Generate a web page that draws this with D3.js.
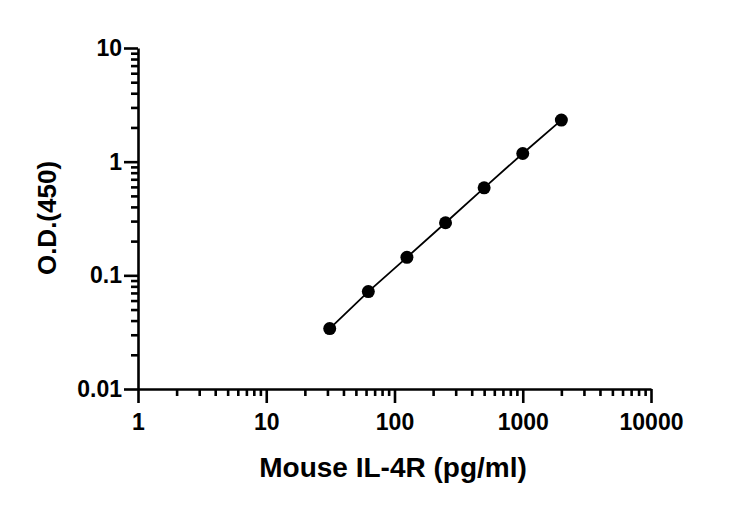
<!DOCTYPE html>
<html>

<head>
    <meta charset="utf-8">
    <style>
        body {
            margin: 0;
            background: #fff;
        }

        svg {
            font-family: "Liberation Sans", Arial, Helvetica, sans-serif;
        }

        .axis .domain,
        .axis .tick line {
            stroke: #000;
            stroke-width: 2.6px;
        }

        .axis .tick text {
            font-size: 23px;
            font-weight: bold;
            fill: #000;
        }

        .axis-title {
            font-size: 28px;
            font-weight: bold;
            fill: #000;
        }

        .axis-title.ytitle {
            font-size: 26px;
        }
    </style>
</head>

<body>
    <svg width="732" height="507"></svg>
</body>

<script src="https://d3js.org/d3.v7.min.js"></script>

<script>
    // standard curve points
    const concentrations = [31.25, 62.5, 125, 250, 500, 1000, 2000];
    const odValues = [0.034, 0.072, 0.144, 0.290, 0.589, 1.18, 2.32];

    const xTickValues = [1, 10, 100, 1000, 10000];
    const xTickLabels = ["1", "10", "100", "1000", "10000"];
    const yTickValues = [0.01, 0.1, 1, 10];
    const yTickLabels = ["0.01", "0.1", "1", "10"];

    const xTitle = "Mouse IL-4R (pg/ml)";
    const yTitle = "O.D.(450)";

    let margin = { top: 48, right: 81, bottom: 118, left: 138 };
    let width = 732;
    let height = 507;

    let svg = d3.select("svg");

    let x = d3.scaleLog()
        .domain([1, 10000])
        .range([margin.left, width - margin.right]);

    let y = d3.scaleLog()
        .domain([0.01, 10])
        .range([height - margin.bottom, margin.top]);

    let xMinor = x.ticks().filter(v => !xTickValues.includes(v));
    let yMinor = y.ticks().filter(v => !yTickValues.includes(v));

    // minor ticks first, no labels
    svg.append("g")
        .attr("class", "axis")
        .attr("transform", `translate(0,${y(0.01)})`)
        .call(d3.axisBottom(x).tickValues(xMinor).tickSize(7).tickSizeOuter(0).tickFormat(""))
        .call(g => g.select(".domain").remove());

    svg.append("g")
        .attr("class", "axis")
        .attr("transform", `translate(${x(1)},0)`)
        .call(d3.axisLeft(y).tickValues(yMinor).tickSize(7).tickSizeOuter(0).tickFormat(""))
        .call(g => g.select(".domain").remove());

    // major ticks + labels
    svg.append("g")
        .attr("class", "axis x")
        .attr("transform", `translate(0,${y(0.01)})`)
        .call(d3.axisBottom(x)
            .tickValues(xTickValues)
            .tickSize(14)
            .tickSizeOuter(0)
            .tickPadding(11)
            .tickFormat((d, i) => xTickLabels[i]));

    svg.append("g")
        .attr("class", "axis y")
        .attr("transform", `translate(${x(1)},0)`)
        .call(d3.axisLeft(y)
            .tickValues(yTickValues)
            .tickSize(14)
            .tickSizeOuter(0)
            .tickPadding(2)
            .tickFormat((d, i) => yTickLabels[i]));

    let points = concentrations.map((c, i) => ({ c: c, od: odValues[i] }));

    let line = d3.line()
        .x(d => x(d.c))
        .y(d => y(d.od));

    svg.append("path")
        .datum(points)
        .attr("d", line)
        .attr("fill", "none")
        .attr("stroke", "#000")
        .attr("stroke-width", 1.8);

    svg.append("g")
        .selectAll("circle")
        .data(points)
        .join("circle")
        .attr("cx", d => x(d.c))
        .attr("cy", d => y(d.od))
        .attr("r", 6.5)
        .attr("fill", "#000");

    svg.append("text")
        .attr("class", "axis-title")
        .attr("x", 393)
        .attr("y", 477)
        .attr("text-anchor", "middle")
        .text(xTitle);

    svg.append("text")
        .attr("class", "axis-title ytitle")
        .attr("transform", "translate(56,218) rotate(-90)")
        .attr("text-anchor", "middle")
        .text(yTitle);
</script>

</html>
